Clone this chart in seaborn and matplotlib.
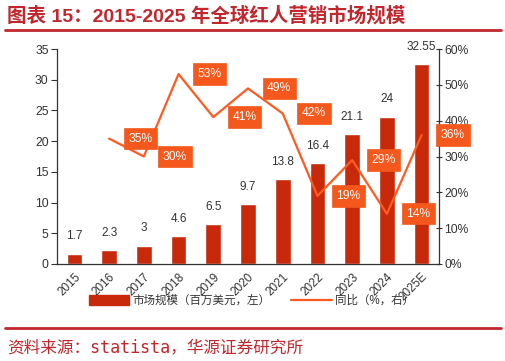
import numpy as np
import pandas as pd
import matplotlib
matplotlib.use("Agg")
import matplotlib.pyplot as plt
import seaborn as sns
from matplotlib.patches import Patch
from matplotlib.lines import Line2D

years = ["2015", "2016", "2017", "2018", "2019", "2020", "2021", "2022", "2023", "2024", "2025E"]
market = [1.7, 2.3, 3.0, 4.6, 6.5, 9.7, 13.8, 16.4, 21.1, 24.0, 32.55]
market_labels = ["1.7", "2.3", "3", "4.6", "6.5", "9.7", "13.8", "16.4", "21.1", "24", "32.55"]
growth = [None, 0.35, 0.30, 0.53, 0.41, 0.49, 0.42, 0.19, 0.29, 0.14, 0.36]
growth_labels = [None, "35%", "30%", "53%", "41%", "49%", "42%", "19%", "29%", "14%", "36%"]

title = "图表 15：2015-2025 年全球红人营销市场规模"
source = "资料来源：statista，华源证券研究所"
legend_bar = "市场规模（百万美元，左）"
legend_line = "同比（%，右）"

sns.set_theme(style="white")
plt.rcParams["font.family"] = ["Liberation Sans", "Noto Sans CJK SC", "DejaVu Sans"]

BAR = "#C8290B"
LINE = "#FF5A1F"
BOX = "#F4581C"
RED = "#C1272D"
TXT = "#333333"

df = pd.DataFrame({"year": years, "market": market, "growth": growth,
                   "pos": np.arange(len(years))})

fig = plt.figure(figsize=(5.06, 3.61), dpi=100)
ax = fig.add_axes([57/506, 1-264/361, (439-57)/506, (264-49)/361])

sns.barplot(data=df, x="year", y="market", color=BAR, width=0.45,
            saturation=1, ax=ax, zorder=2)
ax.bar_label(ax.containers[0], labels=market_labels, padding=8,
             fontsize=8.5, color=TXT)
ax.set_ylim(0, 35)
ax.set_yticks(np.arange(0, 36, 5))
ax.set_xlim(-0.5, len(years) - 0.5)
ax.set_xlabel("")
ax.set_ylabel("")

ax2 = ax.twinx()
dl = df.dropna(subset=["growth"])
sns.lineplot(data=dl, x="pos", y="growth", color=LINE, linewidth=1.6, ax=ax2)
ax2.set_ylim(0, 0.6)
ax2.set_yticks(np.arange(0, 0.61, 0.1))
ax2.set_yticklabels([f"{int(round(v*100))}%" for v in np.arange(0, 0.61, 0.1)])
ax2.set_xlim(-0.5, len(years) - 0.5)
ax2.set_xlabel("")
ax2.set_ylabel("")

for p, g, lab in zip(df["pos"], growth, growth_labels):
    if g is None:
        continue
    ax2.text(p + 0.9, g, lab, ha="center", va="center", color="white",
             fontsize=8.7, zorder=5,
             bbox=dict(boxstyle="square,pad=0.38", fc=BOX, ec=BOX, lw=0.5))

# ticks
ax.set_xticks(df["pos"])
ax.set_xticklabels(years, rotation=45, ha="right", rotation_mode="anchor",
                   fontsize=8.5, color=TXT)
ax.tick_params(axis="x", which="major", length=0, pad=5)
ax.set_xticks(np.arange(-0.5, len(years), 1.0), minor=True)
ax.tick_params(axis="x", which="minor", length=4, width=0.8, color=TXT, direction="out")
ax.tick_params(axis="y", length=4, width=0.8, color=TXT, direction="out",
               labelsize=8.7, labelcolor=TXT, left=True, pad=2)
ax2.tick_params(axis="y", length=4, width=0.8, color=TXT, direction="inout",
                labelsize=8.7, labelcolor=TXT, right=True, pad=2)

for a in (ax, ax2):
    a.spines["top"].set_visible(False)
    for s in ("left", "right", "bottom"):
        a.spines[s].set_color(TXT)
        a.spines[s].set_linewidth(0.9)
ax.spines["right"].set_visible(False)
ax2.spines["left"].set_visible(False)
ax2.spines["bottom"].set_visible(False)

handles = [Patch(color=BAR, label=legend_bar),
           Line2D([0], [0], color=LINE, lw=1.6, label=legend_line)]
fig.legend(handles=handles, loc="center", bbox_to_anchor=(0.497, 1-301/361),
           ncol=2, frameon=False, fontsize=8.3, handlelength=3.5,
           handleheight=0.9, columnspacing=1.8, handletextpad=0.3,
           labelcolor=TXT)

# title and rules
fig.text(7/506, 1-16/361, title, color=RED, fontsize=14, fontweight="bold",
         ha="left", va="center")
fig.add_artist(Line2D([5/506, 501/506], [1-30/361, 1-30/361], color=RED, lw=2))
fig.add_artist(Line2D([5/506, 501/506], [1-328/361, 1-328/361], color=RED, lw=2))
fig.text(7/506, 1-347/361, source, color=RED, fontsize=12, ha="left", va="center",
         family=["DejaVu Sans Mono", "Noto Sans CJK SC"])

fig.savefig("out.png", dpi=100)
